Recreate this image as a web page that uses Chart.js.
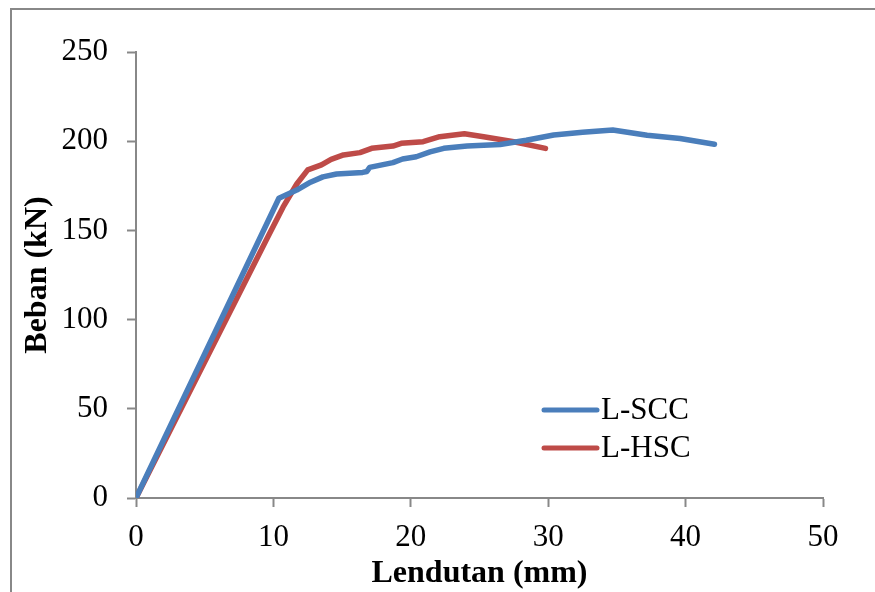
<!DOCTYPE html>
<html>
<head>
<meta charset="utf-8">
<script src="https://cdn.jsdelivr.net/npm/chart.js@4/dist/chart.umd.min.js"></script>
<style>
  html, body { margin: 0; padding: 0; background: #fff; }
  #wrap { width: 875px; height: 592px; position: relative; }
</style>
</head>
<body>
<div id="wrap"><canvas id="chart" width="875" height="592"></canvas></div>
<script>
// L-SCC (blue)
const sccX = [0, 10.4, 11.7, 12.7, 13.6, 14.6, 16.5, 16.8, 17.0, 18.7, 19.4, 20.4, 21.4, 22.4, 24.1, 26.5, 28.4, 30.4, 32.5, 34.7, 37.2, 39.6, 42.1];
const sccY = [0, 168, 172.6, 177, 180, 181.6, 182.5, 183, 185.3, 188, 190, 191.3, 194, 196, 197.3, 198.2, 200.5, 203.5, 205, 206.3, 203.3, 201.5, 198.3];

// L-HSC (red)
const hscX = [0, 9.6, 10.7, 11.7, 12.5, 13.5, 14.2, 15.1, 16.3, 17.15, 18.7, 19.3, 20.9, 22.1, 23.9, 25.3, 27.5, 29.8];
const hscY = [0, 146.5, 163, 176, 183.9, 186.7, 189.8, 192.3, 193.6, 196, 197.3, 198.8, 199.7, 202.5, 204.2, 202.5, 199.7, 196];

const seriesNames = ["L-SCC", "L-HSC"];
const seriesColors = ["#4A7EBB", "#BE4B48"];

const toPoints = (xs, ys) => xs.map((x, i) => ({ x: x, y: ys[i] }));

const FONT = "'Liberation Serif', 'Times New Roman', serif";
const AXIS_GREY = "#888888";

// outer frame of the chart area (cropped at right and bottom)
const framePlugin = {
  id: "frame",
  afterDraw(chart) {
    const ctx = chart.ctx;
    ctx.save();
    ctx.strokeStyle = AXIS_GREY;
    ctx.lineWidth = 2;
    ctx.strokeRect(11, 9, 900, 620);
    ctx.restore();
  }
};

// legend inside the plot, lower right
const insideLegend = {
  id: "insideLegend",
  afterDraw(chart) {
    const ctx = chart.ctx;
    ctx.save();
    ctx.font = "31px " + FONT;
    ctx.textBaseline = "middle";
    ctx.lineCap = "round";
    chart.data.datasets.forEach((ds, i) => {
      const y = 410 + i * 38;
      ctx.strokeStyle = ds.borderColor;
      ctx.lineWidth = 5;
      ctx.beginPath();
      ctx.moveTo(544, y);
      ctx.lineTo(597, y);
      ctx.stroke();
      ctx.fillStyle = "#000";
      ctx.fillText(ds.label, 601, y + 1);
    });
    ctx.restore();
  }
};

new Chart(document.getElementById("chart"), {
  type: "scatter",
  data: {
    datasets: [
      {
        label: seriesNames[0],
        data: toPoints(sccX, sccY),
        showLine: true,
        borderColor: seriesColors[0],
        backgroundColor: seriesColors[0],
        borderWidth: 5.5,
        pointRadius: 0,
        borderCapStyle: "round",
        borderJoinStyle: "round"
      },
      {
        label: seriesNames[1],
        data: toPoints(hscX, hscY),
        showLine: true,
        borderColor: seriesColors[1],
        backgroundColor: seriesColors[1],
        borderWidth: 5.5,
        pointRadius: 0,
        borderCapStyle: "round",
        borderJoinStyle: "round"
      }
    ]
  },
  options: {
    responsive: false,
    animation: false,
    layout: { padding: { left: 12, right: 52, top: 52, bottom: 0 } },
    plugins: {
      legend: { display: false },
      tooltip: { enabled: false }
    },
    scales: {
      x: {
        type: "linear",
        min: 0,
        max: 50,
        afterFit: s => { s.height = 94; },
        ticks: {
          stepSize: 10,
          color: "#000",
          padding: 12,
          font: { family: FONT, size: 31 }
        },
        grid: { drawOnChartArea: false, drawTicks: true, tickLength: 9, tickColor: AXIS_GREY, tickWidth: 2 },
        border: { display: true, color: AXIS_GREY, width: 2 },
        title: {
          display: true,
          text: "Lendutan (mm)",
          color: "#000",
          font: { family: FONT, size: 32, weight: "bold", lineHeight: 1 },
          padding: { top: 0, bottom: 2 }
        }
      },
      y: {
        type: "linear",
        min: 0,
        max: 250,
        afterFit: s => { s.width = 124; },
        ticks: {
          stepSize: 50,
          color: "#000",
          padding: 19,
          font: { family: FONT, size: 31 }
        },
        grid: { drawOnChartArea: false, drawTicks: true, tickLength: 9, tickColor: AXIS_GREY, tickWidth: 2 },
        border: { display: true, color: AXIS_GREY, width: 2 },
        title: {
          display: true,
          text: "Beban (kN)",
          color: "#000",
          font: { family: FONT, size: 32, weight: "bold", lineHeight: 1 },
          padding: { top: 10, bottom: 0 }
        }
      }
    }
  },
  plugins: [framePlugin, insideLegend]
});
</script>
</body>
</html>
